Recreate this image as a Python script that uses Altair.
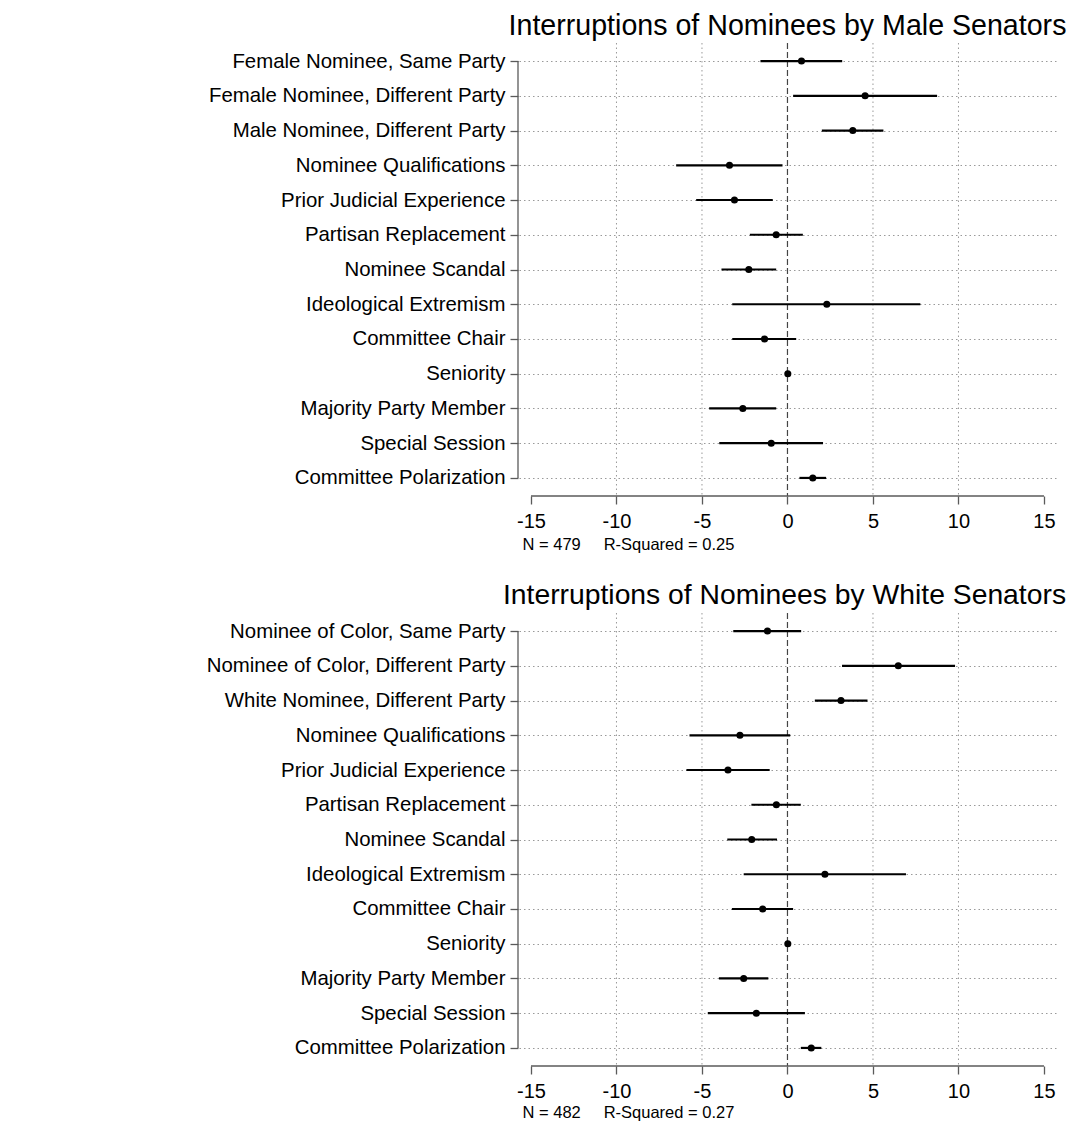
import altair as alt
import pandas as pd

FONT = "Liberation Sans"
AX = "#5a5a5a"
GRID = "#9a9a9a"

# ---- Panel 1: Male senators ----
labels_m = [
    "Female Nominee, Same Party",
    "Female Nominee, Different Party",
    "Male Nominee, Different Party",
    "Nominee Qualifications",
    "Prior Judicial Experience",
    "Partisan Replacement",
    "Nominee Scandal",
    "Ideological Extremism",
    "Committee Chair",
    "Seniority",
    "Majority Party Member",
    "Special Session",
    "Committee Polarization",
]
est_m = [0.82, 4.54, 3.82, -3.39, -3.10, -0.66, -2.26, 2.30, -1.34, 0.02, -2.61, -0.95, 1.48]
lo_m = [-1.58, 0.33, 2.01, -6.51, -5.34, -2.20, -3.86, -3.23, -3.23, 0.00, -4.58, -3.99, 0.70]
hi_m = [3.20, 8.75, 5.61, -0.29, -0.86, 0.90, -0.66, 7.77, 0.51, 0.04, -0.66, 2.08, 2.26]
title_m = "Interruptions of Nominees by Male Senators"
note_m = "N = 479\u00a0\u00a0\u00a0\u00a0\u00a0R-Squared = 0.25"

# ---- Panel 2: White senators ----
labels_w = [
    "Nominee of Color, Same Party",
    "Nominee of Color, Different Party",
    "White Nominee, Different Party",
    "Nominee Qualifications",
    "Prior Judicial Experience",
    "Partisan Replacement",
    "Nominee Scandal",
    "Ideological Extremism",
    "Committee Chair",
    "Seniority",
    "Majority Party Member",
    "Special Session",
    "Committee Polarization",
]
est_w = [-1.17, 6.48, 3.13, -2.78, -3.48, -0.65, -2.09, 2.19, -1.45, 0.02, -2.56, -1.82, 1.39]
lo_w = [-3.17, 3.19, 1.60, -5.73, -5.91, -2.11, -3.52, -2.56, -3.25, 0.00, -4.01, -4.66, 0.78]
hi_w = [0.80, 9.80, 4.68, 0.16, -1.04, 0.78, -0.61, 6.93, 0.33, 0.04, -1.12, 1.02, 1.98]
title_w = "Interruptions of Nominees by White Senators"
note_w = "N = 482\u00a0\u00a0\u00a0\u00a0\u00a0R-Squared = 0.27"

x_ticks = [-15, -10, -5, 0, 5, 10, 15]
grid_vals = [-10, -5, 5, 10]
x_domain = [-15.7, 15.82]

W = 539
H = 453


def panel(title, labels, est, lo, hi, note, tsize, tdx, note_y):
    df = pd.DataFrame({"term": labels, "est": est, "lo": lo, "hi": hi})
    xscale = alt.Scale(domain=x_domain, nice=False, zero=False)
    yscale = alt.Scale(type="point", domain=labels, padding=0.52)

    yaxis = alt.Axis(
        title=None, domain=False, ticks=True, tickSize=8, tickColor=AX, tickWidth=1.3,
        labelFontSize=20.4, labelColor="black", labelPadding=5, labelFont=FONT,
        labelLimit=0, grid=True, gridDash=[1.5, 3], gridColor=GRID, gridWidth=1,
        minExtent=510, maxExtent=510, offset=1,
    )
    xaxis = alt.Axis(
        values=x_ticks, domain=False, grid=False, tickSize=8, tickColor=AX, tickWidth=1.3,
        labelFontSize=20, labelColor="black", labelPadding=7, labelFont=FONT,
        labelExpr="'' + datum.value",
        title=note, titleFontSize=16.5, titleFontWeight="normal", titleFont=FONT,
        titleColor="black", titleAnchor="start", titleAlign="left", titleX=3,
        titleY=note_y, titleBaseline="alphabetic",
    )

    base = alt.Chart(df)

    grid = alt.Chart(pd.DataFrame({"g": grid_vals})).mark_rule(
        strokeDash=[1.5, 3], color=GRID, strokeWidth=1
    ).encode(x=alt.X("g:Q", scale=xscale, axis=xaxis))

    zero = alt.Chart(pd.DataFrame({"z": [0]})).mark_rule(
        strokeDash=[6, 3], color="#444444", strokeWidth=1.2
    ).encode(x=alt.X("z:Q", scale=xscale, axis=xaxis))

    yline = alt.Chart(pd.DataFrame({"a": [labels[0]], "b": [labels[-1]]})).mark_rule(
        color=AX, strokeWidth=1.3
    ).encode(
        y=alt.Y("a:N", scale=yscale, axis=yaxis), y2="b:N", x=alt.value(-1)
    )

    xline = alt.Chart(pd.DataFrame({"s": [x_ticks[0]], "e": [x_ticks[-1]]})).mark_rule(
        color=AX, strokeWidth=1.3
    ).encode(
        x=alt.X("s:Q", scale=xscale, axis=xaxis), x2="e:Q", y=alt.value(H)
    )

    ci = base.mark_rule(color="black", strokeWidth=2.2).encode(
        x=alt.X("lo:Q", scale=xscale, axis=xaxis), x2="hi:Q",
        y=alt.Y("term:N", scale=yscale, axis=yaxis),
    )

    pts = base.mark_circle(size=50, color="black", opacity=1).encode(
        x=alt.X("est:Q", scale=xscale, axis=xaxis),
        y=alt.Y("term:N", scale=yscale, axis=yaxis),
    )

    return alt.layer(grid, zero, yline, xline, ci, pts).properties(
        width=W, height=H,
        title=alt.TitleParams(
            text=title, fontSize=tsize, font=FONT, fontWeight="normal", color="black",
            anchor="middle", frame="group", offset=2, dx=tdx,
        ),
    )


top = panel(title_m, labels_m, est_m, lo_m, hi_m, note_m, 28.6, -1, 53)
bottom = panel(title_w, labels_w, est_w, lo_w, hi_w, note_w, 28.3, -4, 51)

chart = alt.vconcat(top, bottom, spacing=28).properties(
    padding={"left": 0, "top": 3, "right": 0, "bottom": 0}
).configure(font=FONT).configure_view(strokeWidth=0)

chart.save("out.html", embed_options={"renderer": "svg", "actions": False})
